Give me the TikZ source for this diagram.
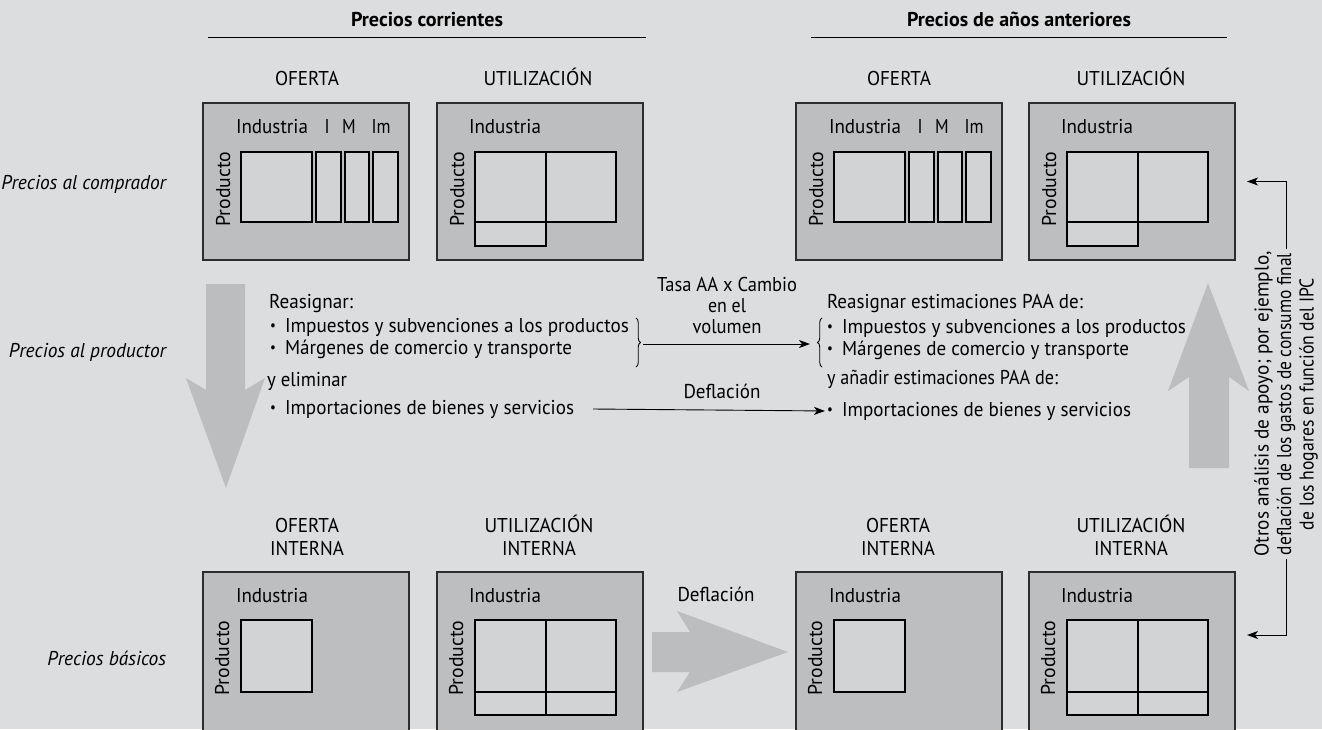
\documentclass[tikz,border=0pt]{standalone}
\usepackage{fontspec}
\setmainfont{PT Sans}[FakeStretch=0.86]
\usetikzlibrary{arrows.meta,decorations.pathreplacing}
\definecolor{bg}{RGB}{220,221,223}
\definecolor{boxfill}{RGB}{189,190,192}
\definecolor{cellfill}{RGB}{210,211,213}
\definecolor{bigarrow}{RGB}{188,189,191}
\definecolor{edge}{RGB}{45,45,45}
\newcommand\fsz{\fontsize{20}{22}\selectfont}
\newcommand\fitw[2]{\resizebox{#1}{\height}{#2}}
\newcommand\bul{\makebox[16pt][l]{\hspace{1pt}\raisebox{1.6pt}{\scalebox{0.75}{\textbullet}}}}
\newlength\tmpw
\tikzset{
  supplytop/.pic={
    \node[panel=157pt] (-box) at (0,0) {};
    \node[txt, anchor=base west] (-ind) at (33,30) {\fitw{72pt}{Industria}};
    \node[txt] (-i) at (124,30) {I};
    \node[txt] (-m) at (146,30) {M};
    \node[txt] (-im) at (178,30) {Im};
    \draw[cellbox] (38,49) rectangle (109,119);
    \draw[cellbox] (113,49) rectangle (138,119);
    \draw[cellbox] (142,49) rectangle (166,119);
    \draw[cellbox] (170,49) rectangle (195,119);
    \node[rot] (-prod) at (27,86) {\fitw{75pt}{Producto}};
  },
  usetop/.pic={
    \node[panel=157pt] (-box) at (0,0) {};
    \node[txt, anchor=base west] (-ind) at (32,30) {\fitw{72pt}{Industria}};
    \draw[cellbox] (38,49) rectangle (109,119);
    \draw[cellbox] (109,49) rectangle (179,119);
    \draw[cellbox] (38,119) rectangle (109,143);
    \node[rot] (-prod) at (27,86) {\fitw{75pt}{Producto}};
  },
  supplybot/.pic={
    \node[panel=170pt] (-box) at (0,0) {};
    \node[txt, anchor=base west] (-ind) at (33,30) {\fitw{72pt}{Industria}};
    \draw[cellbox] (38,48) rectangle (109,120);
    \node[rot] (-prod) at (26,86) {\fitw{75pt}{Producto}};
  },
  usebot/.pic={
    \node[panel=170pt] (-box) at (0,0) {};
    \node[txt, anchor=base west] (-ind) at (32,30) {\fitw{72pt}{Industria}};
    \draw[cellbox] (38,48) rectangle (109,120);
    \draw[cellbox] (109,48) rectangle (179,120);
    \draw[cellbox] (38,120) rectangle (109,143);
    \draw[cellbox] (109,120) rectangle (179,143);
    \node[rot] (-prod) at (26,86) {\fitw{75pt}{Producto}};
  },
}
\begin{document}
\settowidth\tmpw{\fsz\itshape Precios al productor}
\pgfmathsetmacro\rowf{157/\tmpw}
\begin{tikzpicture}[x=1pt,y=-1pt,
  every node/.style={inner sep=0pt,outer sep=0pt},
  txt/.style={font=\fsz, anchor=base},
  ttl/.style={font=\fsz\bfseries, anchor=base},
  rowlbl/.style={font=\fsz\itshape, anchor=base east},
  panel/.style={draw=edge, line width=1.2pt, fill=boxfill, anchor=north west, minimum width=206pt, minimum height=#1},
  cellbox/.style={draw=black, line width=1.1pt, fill=cellfill},
  conn/.style={draw=black, line width=0.9pt, -{Stealth[length=11pt,width=8pt,inset=3pt]}},
  brc/.style={draw=black, line width=0.9pt, decorate, decoration={brace, amplitude=4.5pt}},
  big/.style={fill=bigarrow},
  rot/.style={font=\fsz, rotate=90, anchor=base},
  rule/.style={draw=black, line width=1pt},
]
\fill[bg] (0,0) rectangle (1322,729);
\useasboundingbox (0,0) rectangle (1322,729);
\begin{scope}
\clip (0,0) rectangle (1322,729);

% titles
\node[ttl] (t1) at (427,26) {\fitw{152pt}{Precios corrientes}};
\node[ttl] (t2) at (1019,26) {\fitw{224pt}{Precios de años anteriores}};
\draw[rule] (208,37) -- (646,37);
\draw[rule] (811,37) -- (1227,37);

% headers
\node[txt] (h1) at (307,85) {\fitw{64pt}{OFERTA}};
\node[txt] (h2) at (538,85) {\fitw{109pt}{UTILIZACIÓN}};
\node[txt] (h3) at (899,85) {\fitw{64pt}{OFERTA}};
\node[txt] (h4) at (1131,85) {\fitw{109pt}{UTILIZACIÓN}};
\node[txt, align=center, font=\fontsize{20}{23}\selectfont] (h5) at (307,555) {\fitw{64pt}{OFERTA}\\\fitw{74pt}{INTERNA}};
\node[txt, align=center, font=\fontsize{20}{23}\selectfont] (h6) at (539,555) {\fitw{109pt}{UTILIZACIÓN}\\\fitw{74pt}{INTERNA}};
\node[txt, align=center, font=\fontsize{20}{23}\selectfont] (h7) at (898,555) {\fitw{64pt}{OFERTA}\\\fitw{74pt}{INTERNA}};
\node[txt, align=center, font=\fontsize{20}{23}\selectfont] (h8) at (1131,555) {\fitw{109pt}{UTILIZACIÓN}\\\fitw{74pt}{INTERNA}};

% row labels
\node[rowlbl] (r1) at (166,189) {\scalebox{\rowf}[1]{Precios al comprador}};
\node[rowlbl] (r2) at (166,357) {\scalebox{\rowf}[1]{Precios al productor}};
\node[rowlbl] (r3) at (166,665) {\scalebox{\rowf}[1]{Precios básicos}};

% panels
\pic (o1) at (203,103) {supplytop};
\pic (u1) at (437,103) {usetop};
\pic (o2) at (796,103) {supplytop};
\pic (u2) at (1029,103) {usetop};
\pic (o3) at (203,572) {supplybot};
\pic (u3) at (437,572) {usebot};
\pic (o4) at (796,572) {supplybot};
\pic (u4) at (1029,572) {usebot};

% big arrows
\fill[big] (206,284) -- (245,284) -- (245,390) -- (265,378) -- (226,488) -- (186,378) -- (206,390) -- cycle;
\fill[big] (1189,468) -- (1229,468) -- (1229,377) -- (1249,391) -- (1208,283) -- (1168,391) -- (1189,377) -- cycle;
\fill[big] (652,632) -- (690,632) -- (677,611) -- (788,652) -- (677,692) -- (690,672) -- (652,672) -- cycle;

% middle left text
\node[txt, anchor=base west] (reL) at (269,308) {\fitw{84pt}{Reasignar:}};
\node[txt, anchor=base west] (i1L) at (269,332) {\bul\fitw{344pt}{Impuestos y subvenciones a los productos}};
\node[txt, anchor=base west] (m1L) at (269,354) {\bul\fitw{287pt}{Márgenes de comercio y transporte}};
\node[txt, anchor=base west] (elL) at (267,386) {\fitw{80pt}{y eliminar}};
\node[txt, anchor=base west] (imL) at (269,414) {\bul\fitw{289pt}{Importaciones de bienes y servicios}};

% middle right text
\node[txt, anchor=base west] (reR) at (827,308) {\fitw{256pt}{Reasignar estimaciones PAA de:}};
\node[txt, anchor=base west] (i1R) at (826,333) {\bul\fitw{344pt}{Impuestos y subvenciones a los productos}};
\node[txt, anchor=base west] (m1R) at (826,355) {\bul\fitw{287pt}{Márgenes de comercio y transporte}};
\node[txt, anchor=base west] (adR) at (827,384) {\fitw{231pt}{y añadir estimaciones PAA de:}};
\node[txt, anchor=base west] (imR) at (826,416) {\bul\fitw{289pt}{Importaciones de bienes y servicios}};

% labels on arrows
\node[txt, align=center, font=\fontsize{20}{21}\selectfont] (tasa) at (727,333) {\fitw{140pt}{Tasa AA x Cambio}\\\fitw{38pt}{en el}\\\fitw{69pt}{volumen}};
\node[txt] (def1) at (722,398) {\fitw{77pt}{Deflación}};
\node[txt] (def2) at (716,601) {\fitw{77pt}{Deflación}};

% braces and connectors
\draw[brc] (636,318) -- (636,367);
\draw[brc] (822,367) -- (822,318);
\coordinate (bL) at (643,344);
\coordinate (bR) at (810,344);
\draw[conn] (bL) -- (bR);
\coordinate (dL) at (593,409);
\draw[conn] (dL) -- ([xshift=-1pt]imR.west);

% right note
\node[font=\fontsize{20}{22.5}\selectfont, rotate=90, align=center] (note) at (1286,404)
  {\fitw{305pt}{Otros análisis de apoyo; por ejemplo,}\\\fitw{302pt}{deflación de los gastos de consumo final}\\\fitw{252pt}{de los hogares en función del IPC}};
\coordinate (tB) at (1247,635);
\draw[conn, shorten <=2pt] (note.east) |- ([xshift=12pt]u2-box.east);
\draw[conn, shorten <=2pt] (note.west) |- (tB);
\end{scope}
\end{tikzpicture}
\end{document}
